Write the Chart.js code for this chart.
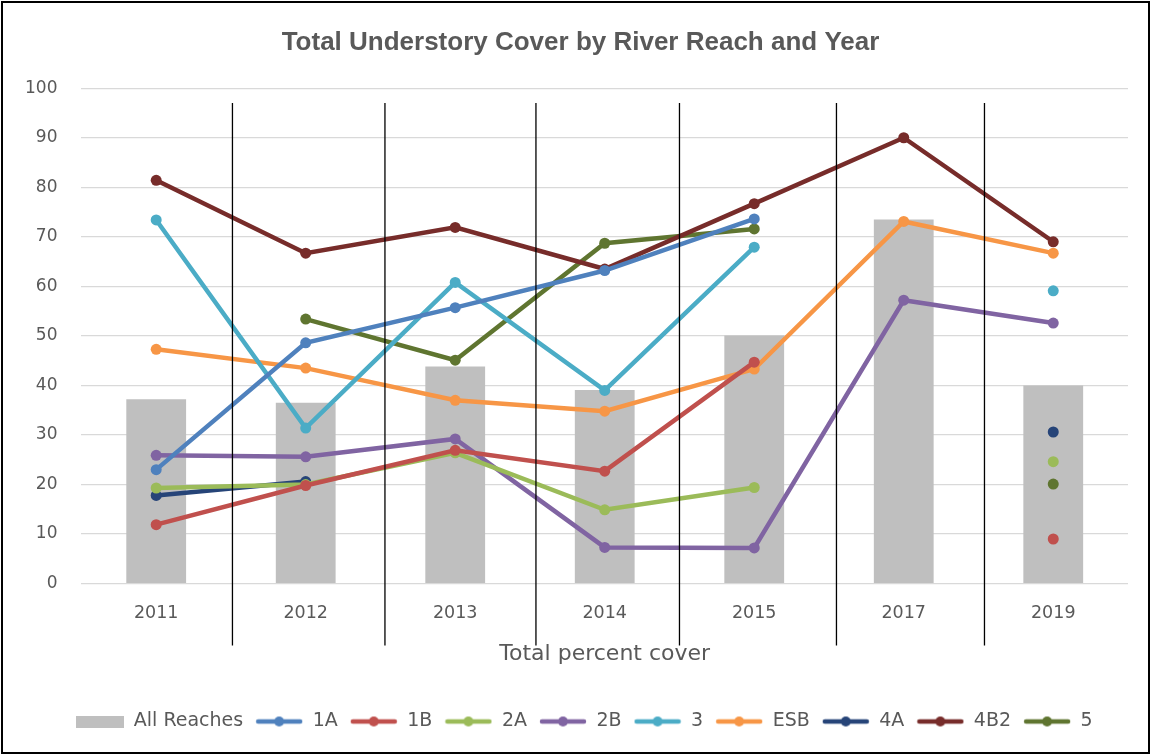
<!DOCTYPE html>
<html lang="en">
<head>
  <meta charset="UTF-8" />
  <title>Total Understory Cover by River Reach and Year</title>
  <script src="https://cdn.jsdelivr.net/npm/chart.js"></script>
  <style>
    html, body { margin: 0; padding: 0; background: #fff; }
    #wrap { width: 1151px; height: 755px; position: relative; }
  </style>
</head>
<body>
  <div id="wrap"><canvas id="chart"></canvas></div>

  <script>
    // years on the x axis
    const years = ["2011", "2012", "2013", "2014", "2015", "2017", "2019"];

    // all reaches (bars)
    const allReaches = [37.2, 36.5, 43.8, 39.1, 50.1, 73.5, 40.0];

    // per reach (lines), null = not sampled
    const reach1A  = [23.0, 48.6, 55.7, 63.2, 73.6, null, null];
    const reach1B  = [11.9, 19.8, 26.9, 22.7, 44.7, null, 9.0];
    const reach2A  = [19.3, 20.0, 26.4, 14.9, 19.4, null, 24.6];
    const reach2B  = [25.9, 25.6, 29.2, 7.3, 7.2, 57.2, 52.6];
    const reach3   = [73.4, 31.4, 60.8, 39.0, 67.9, null, 59.1];
    const reachESB = [47.3, 43.5, 37.0, 34.8, 43.3, 73.1, 66.7];
    const reach4A  = [17.8, 20.6, null, null, null, null, 30.6];
    const reach4B2 = [81.4, 66.7, 71.9, 63.5, 76.7, 90.0, 69.0];
    const reach5   = [null, 53.4, 45.1, 68.7, 71.6, null, 20.1];

    // hand drawn year dividers, in category units (0 = 2011)
    const dividers = [0.51, 1.53, 2.54, 3.5, 4.55, 5.54];

    const yTicks = { min: 0, max: 100, step: 10 };

    const lineSeries = [
      { label: "1A",  data: reach1A,  color: "#4F81BD" },
      { label: "1B",  data: reach1B,  color: "#C0504D" },
      { label: "2A",  data: reach2A,  color: "#9BBB59" },
      { label: "2B",  data: reach2B,  color: "#8064A2" },
      { label: "3",   data: reach3,   color: "#4BACC6" },
      { label: "ESB", data: reachESB, color: "#F79646" },
      { label: "4A",  data: reach4A,  color: "#264478" },
      { label: "4B2", data: reach4B2, color: "#772C2A" },
      { label: "5",   data: reach5,   color: "#5F7530" }
    ];

    const TEXT = "#595959";
    const FONT = "'DejaVu Sans', 'Open Sans', sans-serif";

    // little legend swatches drawn like excel's line+marker symbol
    function lineSwatch(color) {
      const c = document.createElement("canvas");
      c.width = 48; c.height = 12;
      const g = c.getContext("2d");
      g.strokeStyle = color;
      g.lineWidth = 4.5;
      g.lineCap = "round";
      g.beginPath(); g.moveTo(3, 6); g.lineTo(45, 6); g.stroke();
      g.fillStyle = color;
      g.beginPath(); g.arc(24, 6, 5, 0, Math.PI * 2); g.fill();
      return c;
    }
    function boxSwatch(color) {
      const c = document.createElement("canvas");
      c.width = 48; c.height = 12;
      const g = c.getContext("2d");
      g.fillStyle = color;
      g.fillRect(0, 0, 48, 12);
      return c;
    }

    const datasets = [
      {
        type: "bar",
        label: "All Reaches",
        data: allReaches,
        backgroundColor: "#BFBFBF",
        barPercentage: 0.4,
        categoryPercentage: 1,
        order: 2
      }
    ].concat(lineSeries.map(s => ({
      type: "line",
      label: s.label,
      data: s.data,
      borderColor: s.color,
      backgroundColor: s.color,
      borderWidth: 4.5,
      pointRadius: 5.5,
      pointHoverRadius: 5.5,
      pointBorderWidth: 0,
      spanGaps: false,
      tension: 0,
      order: 1
    })));

    // dividers between the years + the outer frame
    const overlay = {
      id: "overlay",
      afterLayout(chart) {
        // excel centres title and legend on the whole frame, not the plot
        chart.titleBlock.left += 32;
        chart.titleBlock.width -= 32;
        chart.legend.left += 40;
        chart.legend.width -= 40;
      },
      beforeDraw(chart) {
        const ctx = chart.ctx;
        ctx.save();
        ctx.fillStyle = "#fff";
        ctx.fillRect(0, 0, chart.width, chart.height);
        ctx.restore();
      },
      afterDraw(chart) {
        const ctx = chart.ctx, x = chart.scales.x, y = chart.scales.y;
        ctx.save();
        ctx.strokeStyle = "#000";
        ctx.lineWidth = 1.3;
        const top = y.getPixelForValue(97);
        const bottom = chart.chartArea.bottom + 62;
        dividers.forEach(d => {
          const px = x.getPixelForValue(0) + d * (x.getPixelForValue(1) - x.getPixelForValue(0));
          ctx.beginPath(); ctx.moveTo(px, top); ctx.lineTo(px, bottom); ctx.stroke();
        });
        ctx.lineWidth = 2;
        ctx.strokeRect(2, 2, chart.width - 4, chart.height - 4);
        ctx.restore();
      }
    };

    new Chart(document.getElementById("chart"), {
      data: { labels: years, datasets },
      options: {
        responsive: true,
        maintainAspectRatio: false,
        animation: false,
        layout: { padding: { top: 18, left: 1, right: 23, bottom: 14 } },
        plugins: {
          title: {
            display: true,
            text: "Total Understory Cover by River Reach and Year",
            color: TEXT,
            font: { family: "'Liberation Sans', Arial, sans-serif", size: 26, weight: "bold" },
            padding: { top: 9, bottom: 30 }
          },
          legend: {
            position: "bottom",
            labels: {
              color: TEXT,
              font: { family: FONT, size: 19 },
              usePointStyle: true,
              pointStyleWidth: 48,
              padding: 12,
              generateLabels(chart) {
                return chart.data.datasets.map((ds, i) => ({
                  text: ds.label,
                  datasetIndex: i,
                  fontColor: TEXT,
                  pointStyle: ds.type === "bar" ? boxSwatch(ds.backgroundColor) : lineSwatch(ds.borderColor),
                  fillStyle: ds.backgroundColor,
                  strokeStyle: ds.backgroundColor,
                  lineWidth: 0,
                  hidden: !chart.isDatasetVisible(i)
                }));
              }
            }
          },
          tooltip: { enabled: false }
        },
        scales: {
          x: {
            grid: { display: false, drawTicks: false },
            border: { display: false },
            ticks: { color: TEXT, font: { family: FONT, size: 17.5 }, padding: 19 },
            title: {
              display: true,
              text: "Total percent cover",
              color: TEXT,
              font: { family: FONT, size: 22 },
              padding: { top: -2, bottom: 33 }
            }
          },
          y: {
            min: yTicks.min,
            max: yTicks.max,
            grid: { color: "#D9D9D9", lineWidth: 1.3, drawTicks: false },
            border: { display: false },
            ticks: { stepSize: yTicks.step, color: TEXT, font: { family: FONT, size: 17 }, padding: 24 }
          }
        }
      },
      plugins: [overlay]
    });
  </script>
</body>
</html>
